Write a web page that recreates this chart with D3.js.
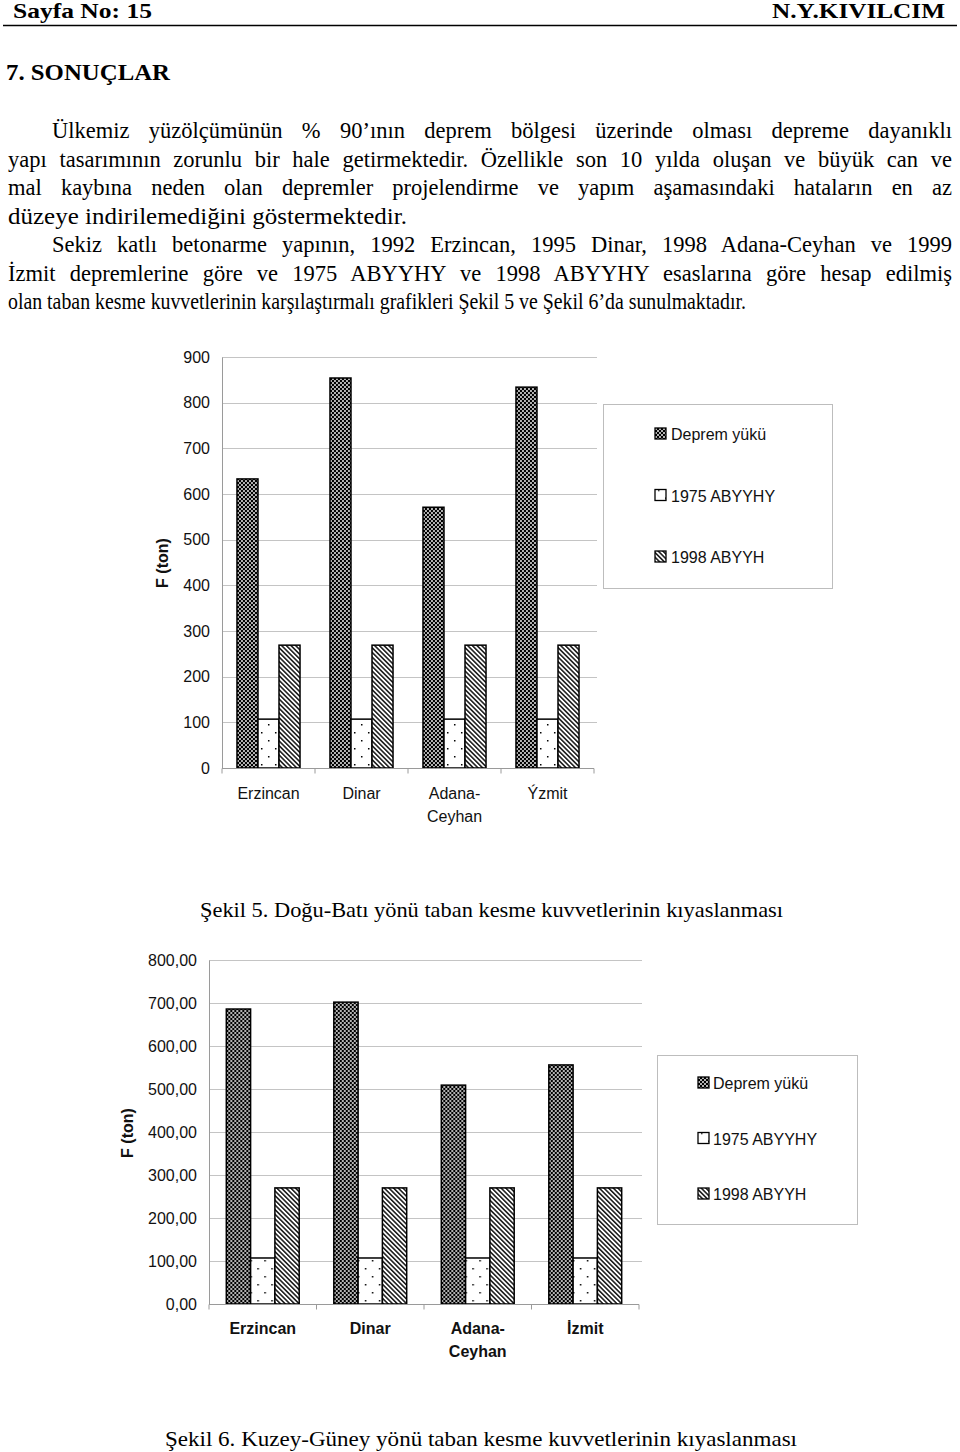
<!DOCTYPE html>
<meta charset="utf-8">
<html>

<head>
    <title>Taban kesme kuvvetleri</title>
    <style>
        body { margin: 0; background: #fff; }
        svg { display: block; }
    </style>
</head>

<body>
    <div id="container"></div>

    <script src="https://d3js.org/d3.v7.min.js"></script>

    <script>
        // ---- chart data ----
        const seriesNames = ["Deprem yükü", "1975 ABYYHY", "1998 ABYYH"];

        // Şekil 5, Doğu-Batı
        const catsEW = ["Erzincan", "Dinar", "Adana-Ceyhan", "Ýzmit"];
        const ewDeprem = [633, 854, 571, 834];
        const ew1975 = [107, 107, 107, 107];
        const ew1998 = [269, 269, 269, 269];
        const ticksEW = [0, 100, 200, 300, 400, 500, 600, 700, 800, 900];

        // Şekil 6, Kuzey-Güney
        const catsNS = ["Erzincan", "Dinar", "Adana-Ceyhan", "İzmit"];
        const nsDeprem = [686, 702, 509, 556];
        const ns1975 = [107, 107, 107, 107];
        const ns1998 = [270, 270, 270, 270];
        const ticksNS = [0, 100, 200, 300, 400, 500, 600, 700, 800];

        // ---- page text ----
        const para1 = [
            "Ülkemiz yüzölçümünün % 90’ının deprem bölgesi üzerinde olması depreme dayanıklı",
            "yapı tasarımının zorunlu bir hale getirmektedir. Özellikle son 10 yılda oluşan ve büyük can ve",
            "mal kaybına neden olan depremler projelendirme ve yapım aşamasındaki hataların en az",
            "düzeye indirilemediğini göstermektedir."
        ];
        const para2 = [
            "Sekiz katlı betonarme yapının, 1992 Erzincan, 1995 Dinar, 1998 Adana-Ceyhan ve 1999",
            "İzmit depremlerine göre ve 1975 ABYYHY ve 1998 ABYYHY esaslarına göre hesap edilmiş",
            "olan taban kesme kuvvetlerinin karşılaştırmalı grafikleri Şekil 5 ve Şekil 6’da sunulmaktadır."
        ];
        const lastWidths = [399, 738]; // width of each paragraph's last (unjustified) line

        const width = 960, height = 1452;
        const serif = "'Liberation Serif', 'Times New Roman', serif";
        const sans = "'Liberation Sans', Arial, sans-serif";

        const svg = d3.select("#container").append("svg")
            .attr("width", width)
            .attr("height", height);

        // ---- fill patterns ----
        const defs = svg.append("defs");

        const pDep = defs.append("pattern").attr("id", "pDeprem")
            .attr("patternUnits", "userSpaceOnUse").attr("width", 4).attr("height", 4);
        pDep.append("rect").attr("width", 4).attr("height", 4).attr("fill", "#000");
        pDep.append("circle").attr("cx", 1).attr("cy", 1).attr("r", 0.95).attr("fill", "#fff");
        pDep.append("circle").attr("cx", 3).attr("cy", 3).attr("r", 0.95).attr("fill", "#fff");

        const p75 = defs.append("pattern").attr("id", "p1975")
            .attr("patternUnits", "userSpaceOnUse").attr("width", 14).attr("height", 16);
        p75.append("rect").attr("width", 14).attr("height", 16).attr("fill", "#fff");
        p75.append("rect").attr("x", 3).attr("y", 4).attr("width", 1.5).attr("height", 1.5).attr("fill", "#000");
        p75.append("rect").attr("x", 10).attr("y", 12).attr("width", 1.5).attr("height", 1.5).attr("fill", "#000");

        const p98 = defs.append("pattern").attr("id", "p1998")
            .attr("patternUnits", "userSpaceOnUse").attr("width", 3.3).attr("height", 3.3)
            .attr("patternTransform", "rotate(-45)");
        p98.append("rect").attr("width", 3.3).attr("height", 3.3).attr("fill", "#fff");
        p98.append("line").attr("x1", 0.8).attr("y1", -1).attr("x2", 0.8).attr("y2", 5)
            .attr("stroke", "#000").attr("stroke-width", 1.4);

        const fills = ["url(#pDeprem)", "url(#p1975)", "url(#p1998)"];

        /**
         * draws one line of serif text at a given width;
         * justified lines get their word spacing stretched, other lines are fitted
         */
        function textLine(str, x, y, target, opts) {
            const t = svg.append("text")
                .attr("x", x).attr("y", y)
                .attr("font-family", serif)
                .attr("font-size", opts.size)
                .attr("font-weight", opts.bold ? "bold" : "normal")
                .attr("fill", "#000")
                .text(str);
            const natural = t.node().getComputedTextLength();
            const spaces = (str.match(/ /g) || []).length;
            if (opts.justify && natural < target && spaces > 0) {
                t.attr("word-spacing", (target - natural) / spaces);
            } else {
                t.attr("textLength", target).attr("lengthAdjust", "spacingAndGlyphs");
            }
        }

        // ---- header ----
        textLine("Sayfa No: 15", 13, 18, 139, { size: 21, bold: true });
        textLine("N.Y.KIVILCIM", 772, 18, 173, { size: 21, bold: true });
        svg.append("line").attr("x1", 3).attr("x2", 957).attr("y1", 25.5).attr("y2", 25.5)
            .attr("stroke", "#000").attr("stroke-width", 1.5);
        textLine("7. SONUÇLAR", 6, 80, 164, { size: 23, bold: true });

        // ---- body text ----
        const lineH = 28.5;
        let by = 138;
        [para1, para2].forEach((par, p) => {
            par.forEach((str, i) => {
                const x0 = i === 0 ? 52 : 8;
                const last = i === par.length - 1;
                textLine(str, x0, by, last ? lastWidths[p] : 952 - x0, { size: 22.5, justify: !last });
                by += lineH;
            });
        });

        // ---- captions ----
        textLine("Şekil 5. Doğu-Batı yönü taban kesme kuvvetlerinin kıyaslanması", 200, 917, 583, { size: 22 });
        textLine("Şekil 6. Kuzey-Güney yönü taban kesme kuvvetlerinin kıyaslanması", 165, 1446, 632, { size: 22 });

        function splitLabel(c) {
            const k = c.indexOf("-");
            return k < 0 ? [c] : [c.slice(0, k + 1), c.slice(k + 1)];
        }

        /**
         * a grouped bar chart with patterned bars and a boxed legend on the right
         */
        function drawChart(o) {
            const g = svg.append("g");
            const values = o.series;

            const x0 = d3.scaleBand().domain(o.cats).range(o.xRange)
                .paddingInner(0.322).paddingOuter(0.161);
            const x1 = d3.scaleBand().domain(seriesNames).range([0, x0.bandwidth()]);
            const y = d3.scaleLinear().domain([0, d3.max(o.ticks)]).range(o.yRange);

            // gridlines
            g.append("g").selectAll("line").data(o.ticks.filter(d => d > 0)).join("line")
                .attr("x1", o.xRange[0]).attr("x2", o.xRange[1] + 3)
                .attr("y1", d => Math.round(y(d)) + 0.5).attr("y2", d => Math.round(y(d)) + 0.5)
                .attr("stroke", "#c4c4c4").attr("stroke-width", 1);

            // y axis
            const yAxis = g.append("g")
                .attr("transform", `translate(${o.xRange[0]},0)`)
                .call(d3.axisLeft(y).tickValues(o.ticks).tickFormat(o.fmt).tickSize(0).tickPadding(o.labelGap));
            yAxis.select(".domain").attr("stroke", "#9a9a9a");
            yAxis.selectAll("text").attr("font-family", sans).attr("font-size", 16).attr("fill", "#111");

            // bars
            g.append("g").selectAll("g").data(o.cats).join("g")
                .attr("transform", d => `translate(${x0(d)},0)`)
                .selectAll("rect")
                .data((d, i) => seriesNames.map((s, j) => ({ s, j, v: values[j][i] })))
                .join("rect")
                .attr("x", d => x1(d.s))
                .attr("width", x1.bandwidth())
                .attr("y", d => y(d.v))
                .attr("height", d => y(0) - y(d.v))
                .attr("fill", d => fills[d.j])
                .attr("stroke", "#000")
                .attr("stroke-width", 1.5);

            // x axis: baseline and boundary ticks
            const y0 = Math.round(y(0)) + 0.5;
            g.append("line").attr("x1", o.xRange[0]).attr("x2", o.xRange[1])
                .attr("y1", y0).attr("y2", y0).attr("stroke", "#9a9a9a");
            const bounds = o.cats.map(c => x0(c) - x0.step() * 0.161).concat([o.xRange[1]]);
            g.append("g").selectAll("line").data(bounds).join("line")
                .attr("x1", d => d).attr("x2", d => d)
                .attr("y1", y0).attr("y2", y0 + 5).attr("stroke", "#9a9a9a");

            // category labels
            g.append("g").selectAll("text").data(o.cats).join("text")
                .attr("x", d => x0(d) + x0.bandwidth() / 2)
                .attr("y", o.catY)
                .attr("text-anchor", "middle")
                .attr("font-family", sans).attr("font-size", 16)
                .attr("font-weight", o.catBold ? "bold" : "normal")
                .attr("fill", "#111")
                .selectAll("tspan").data(d => splitLabel(d)).join("tspan")
                .attr("x", function () { return this.parentNode.getAttribute("x"); })
                .attr("dy", (d, i) => i === 0 ? 0 : 23)
                .text(d => d);

            // y label
            g.append("text")
                .attr("transform", `translate(${o.yLabel[0]},${o.yLabel[1]}) rotate(-90)`)
                .attr("text-anchor", "middle")
                .attr("font-family", sans).attr("font-size", 16).attr("font-weight", "bold")
                .attr("fill", "#111")
                .text("F (ton)");

            // legend
            const lb = o.legend;
            g.append("rect").attr("x", lb.x + 0.5).attr("y", lb.y + 0.5)
                .attr("width", lb.w).attr("height", lb.h)
                .attr("fill", "#fff").attr("stroke", "#bdbdbd");
            const item = g.append("g").selectAll("g").data(seriesNames).join("g")
                .attr("transform", (d, i) => `translate(${lb.sx},${lb.y0 + i * lb.dy})`);
            item.append("rect").attr("x", 0).attr("y", -12).attr("width", 11).attr("height", 11)
                .attr("fill", (d, i) => fills[i]).attr("stroke", "#000").attr("stroke-width", 1.3);
            item.append("text").attr("x", lb.tx).attr("y", 0)
                .attr("font-family", sans).attr("font-size", 16).attr("fill", "#111")
                .text(d => d);
        }

        drawChart({
            cats: catsEW,
            series: [ewDeprem, ew1975, ew1998],
            ticks: ticksEW,
            fmt: d3.format("d"),
            xRange: [222, 594],
            yRange: [768, 357],
            labelGap: 12,
            catY: 799,
            catBold: false,
            yLabel: [168, 563],
            legend: { x: 603, y: 404, w: 229, h: 184, sx: 655, tx: 16, y0: 440, dy: 61.5 }
        });

        drawChart({
            cats: catsNS,
            series: [nsDeprem, ns1975, ns1998],
            ticks: ticksNS,
            fmt: d => d3.format(".2f")(d).replace(".", ","),
            xRange: [209, 639],
            yRange: [1304, 960],
            labelGap: 12,
            catY: 1334,
            catBold: true,
            yLabel: [133, 1133],
            legend: { x: 657, y: 1055, w: 200, h: 169, sx: 698, tx: 15, y0: 1089, dy: 55.5 }
        });
    </script>
</body>

</html>
